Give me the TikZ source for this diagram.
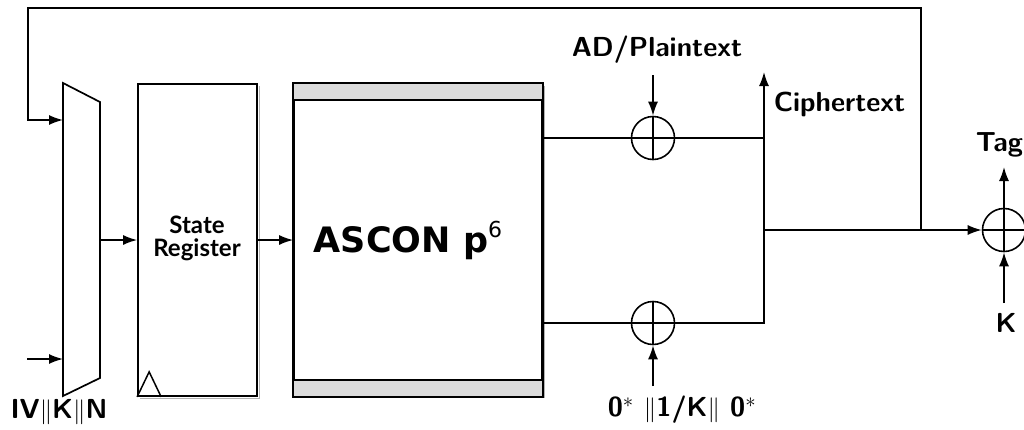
\documentclass[tikz,border=0pt]{standalone}
\usepackage{fontspec}
\usetikzlibrary{arrows.meta}
\newfontfamily\latofont{Lato}
\newfontfamily\dejafont{DejaVu Sans}
\newfontfamily\lmsb{lmsans10-bold.otf}
\begin{document}
\begin{tikzpicture}[x=1pt,y=-1pt,line width=1.6pt,
  >={Latex[length=14pt,width=10pt]},
  lbl/.style={font=\lmsb\fontsize{27.5}{29}\selectfont, inner sep=0pt},
  xorc/.style={circle,draw,minimum size=43pt,inner sep=0pt,line width=1.6pt},
  blockbox/.style={draw,line width=1.7pt,fill=white}]
\useasboundingbox (0,0) rectangle (1024,429);
\clip (0,0) rectangle (1024,429);
% shadows
\draw[gray!60,line width=1pt] (259,86) -- (259,398) -- (140,398);
\draw[gray!60,line width=1pt] (544,86) -- (544,398);
% mux
\draw[line width=1.7pt,fill=white] (63,83) -- (100,102) -- (100,378) -- (63,396) -- cycle;
\coordinate (muxin1) at (63,120);
\coordinate (muxin2) at (63,359);
\coordinate (muxout) at (100,240);
% register
\node[blockbox,minimum width=119pt,minimum height=312pt,inner sep=0pt] (reg) at (197.5,240) {};
\node[font=\latofont\bfseries\fontsize{24}{23}\selectfont,align=center,inner sep=0pt] (regtxt) at (197,238) {State\\Register};
\draw[line width=1.5pt] (reg.south west) -- ([xshift=12pt,yshift=25pt]reg.south west) -- ([xshift=24pt]reg.south west);
% ascon
\node[blockbox,minimum width=248pt,minimum height=312pt,inner sep=0pt] (ascon) at (418,240) {};
\filldraw[fill=gray!28,line width=1.5pt] (ascon.north west) rectangle ([yshift=-17pt]ascon.north east);
\filldraw[fill=gray!28,line width=1.5pt] (ascon.south west) rectangle ([yshift=17pt]ascon.south east);
\draw[line width=1.7pt] (ascon.north west) rectangle (ascon.south east);
\node[inner sep=0pt] (ascontxt) at (408,240) {\dejafont\bfseries\fontsize{35}{36}\selectfont ASCON p\raisebox{15pt}{\fontsize{22}{22}\mdseries\selectfont 6}};
% xors
\node[xorc] (x1) at (653,138) {};
\node[xorc] (x2) at (653,323) {};
\node[xorc] (x3) at (1004,230) {};
\foreach \n in {x1,x2,x3}{\draw (\n.north) -- (\n.south) (\n.west) -- (\n.east);}
% coordinates
\coordinate (j1) at (764,138);
\coordinate (j2) at (764,323);
\coordinate (j3) at (764,230);
\coordinate (ctip) at (764,72);
\coordinate (fb) at (921,230);
\coordinate (fbtr) at (921,8);
\coordinate (fbtl) at (28,8);
\coordinate (fbbl) at (28,120);
\coordinate (ivin) at (27,359);
\coordinate (adin) at (653,75);
\coordinate (zin) at (653,386);
\coordinate (tagout) at (1004,167);
\coordinate (kin) at (1004,303);
% connectors
\draw[->] (fb) -- (fbtr) -- (fbtl) -- (fbbl) -- (muxin1);
\draw[->] (ivin) -- (muxin2);
\draw[->] (muxout) -- (reg.west);
\draw[->] (reg.east) -- (ascon.west);
\draw (ascon.east |- x1) -- (x1.west);
\draw (ascon.east |- x2) -- (x2.west);
\draw (x1.east) -- (j1);
\draw[->] (x2.east) -- (j2) -- (ctip);
\draw[->] (j3) -- (x3.west);
\draw[->] (adin) -- (x1.north);
\draw[->] (zin) -- (x2.south);
\draw[->] (x3.north) -- (tagout);
\draw[->] (kin) -- (x3.south);
% labels
\node[lbl] (adl) at (657,50) {AD/Plaintext};
\node[lbl,anchor=west] (ctl) at (773,104) {Ciphertext};
\node[lbl,anchor=west] (tagl) at (975,145) {Tag};
\node[lbl] (kl) at (1006,323) {K};
\node[lbl] (ivl) at (59,412) {IV$\|$K$\|$N};
\node[lbl] (zl) at (682,410) {0$^*$ $\|$1/K$\|$ 0$^*$};
\end{tikzpicture}
\end{document}
